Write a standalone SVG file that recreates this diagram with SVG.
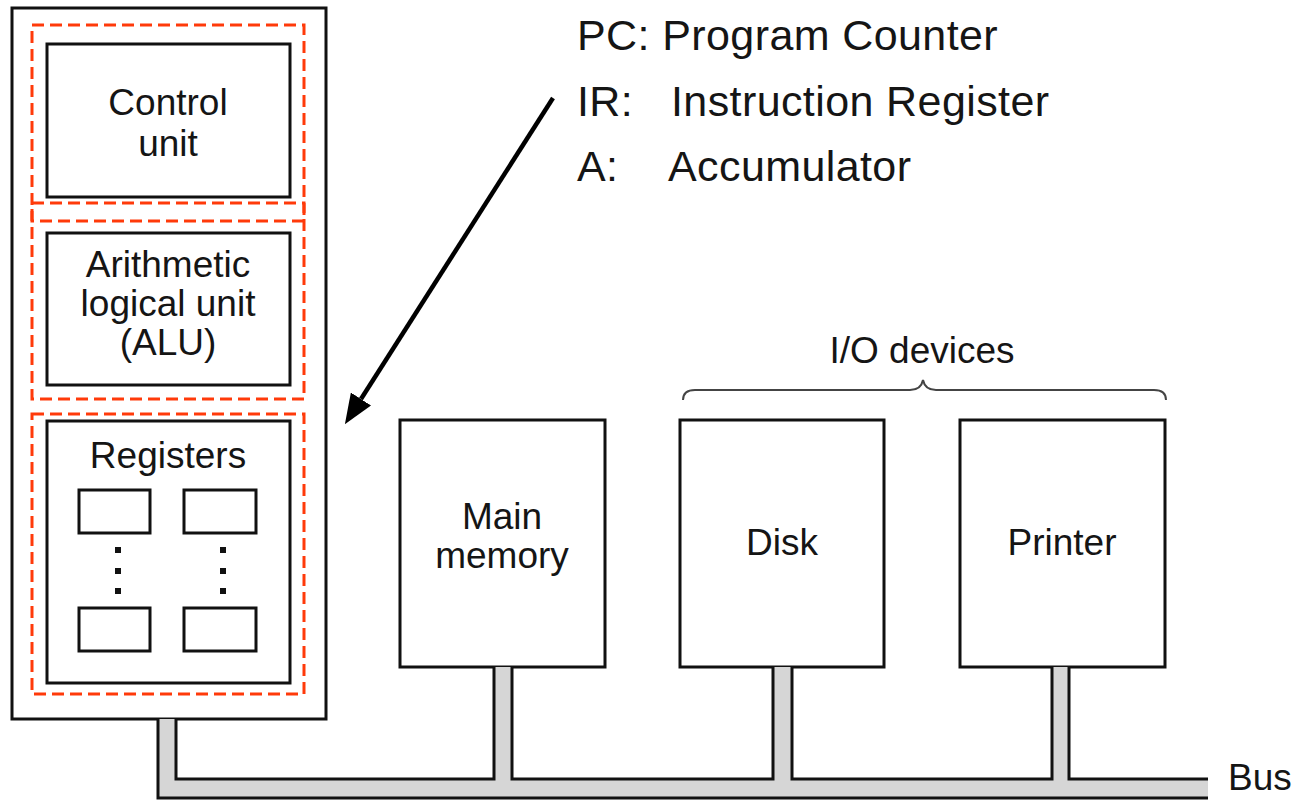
<svg xmlns="http://www.w3.org/2000/svg" width="1297" height="800" viewBox="0 0 1297 800">
  <style>
    .box { fill: #ffffff; stroke: #111111; stroke-width: 3; }
    .dash { fill: none; stroke: #ff3a0a; stroke-width: 3; stroke-dasharray: 12 6; }
    .lbl { font-family: "Liberation Sans", Arial, Helvetica, sans-serif; font-size: 37px; fill: #151515; text-anchor: middle; }
    .legend { font-family: "Liberation Sans", Arial, Helvetica, sans-serif; font-size: 43px; fill: #151515; letter-spacing: 0.4px; }
    .busfill { fill: #d6d6d6; stroke: none; }
    .busline { fill: none; stroke: #111111; stroke-width: 3; }
    .dot { fill: #111111; }
  </style>
  <defs>
    <marker id="arrowhead" viewBox="0 0 30 24" refX="0" refY="12" markerWidth="30" markerHeight="24" markerUnits="userSpaceOnUse" orient="auto">
      <path d="M0,0 L30,12 L0,24 z" fill="#000000"/>
    </marker>
  </defs>

  <rect width="1297" height="800" fill="#ffffff"/>

  <!-- CPU -->
  <g id="cpu">
    <rect class="box" x="12" y="8" width="314" height="711"/>
    <rect class="dash" x="32" y="25" width="272" height="196"/>
    <rect class="dash" x="32" y="203" width="272" height="196"/>
    <rect class="dash" x="32" y="414" width="272" height="280"/>
  </g>

  <g id="control-unit">
    <rect class="box" x="47" y="44" width="243" height="153"/>
    <text class="lbl" x="168" y="115">Control</text>
    <text class="lbl" x="168" y="156">unit</text>
  </g>

  <g id="alu">
    <rect class="box" x="47" y="233" width="243" height="152"/>
    <text class="lbl" x="168" y="277">Arithmetic</text>
    <text class="lbl" x="168" y="316">logical unit</text>
    <text class="lbl" x="168" y="355">(ALU)</text>
  </g>

  <g id="registers">
    <rect class="box" x="47" y="421" width="243" height="262"/>
    <text class="lbl" x="168" y="468">Registers</text>
    <rect class="box" x="79" y="490" width="71" height="43"/>
    <rect class="box" x="184" y="490" width="72" height="43"/>
    <rect class="box" x="79" y="608" width="71" height="43"/>
    <rect class="box" x="184" y="608" width="72" height="43"/>
    <rect class="dot" x="115" y="547" width="6" height="6"/>
    <rect class="dot" x="115" y="568" width="6" height="6"/>
    <rect class="dot" x="115" y="588" width="6" height="6"/>
    <rect class="dot" x="220" y="547" width="6" height="6"/>
    <rect class="dot" x="220" y="568" width="6" height="6"/>
    <rect class="dot" x="220" y="588" width="6" height="6"/>
  </g>

  <!-- legend of register names -->
  <g id="legend">
    <text class="legend" x="577" y="50">PC: Program Counter</text>
    <text class="legend" x="577" y="116">IR:</text>
    <text class="legend" x="671" y="116">Instruction Register</text>
    <text class="legend" x="577" y="181">A:</text>
    <text class="legend" x="668" y="181">Accumulator</text>
  </g>

  <g id="main-memory">
    <rect class="box" x="400" y="420" width="205" height="247"/>
    <text class="lbl" x="502" y="529">Main</text>
    <text class="lbl" x="502" y="568">memory</text>
  </g>

  <g id="disk">
    <rect class="box" x="680" y="420" width="204" height="247"/>
    <text class="lbl" x="782" y="555">Disk</text>
  </g>

  <g id="printer">
    <rect class="box" x="960" y="420" width="205" height="247"/>
    <text class="lbl" x="1062" y="555">Printer</text>
  </g>

  <g id="io-devices">
    <path d="M683,400 Q683,390 695,390 L910,390 Q921,390 923,380 Q925,390 936,390 L1154,390 Q1166,390 1166,400" fill="none" stroke="#444444" stroke-width="2"/>
    <text class="lbl" x="922" y="363">I/O devices</text>
  </g>

  <!-- system bus -->
  <g id="connectors">
    <path class="busfill" d="M158,719 L176,719 L176,779 L494,779 L494,667 L512,667 L512,779 L773,779 L773,667 L792,667 L792,779 L1052,779 L1052,667 L1069,667 L1069,779 L1208,779 L1208,798 L158,798 z"/>
    <polyline class="busline" points="158,719 158,798 1208,798"/>
    <polyline class="busline" points="176,719 176,779 494,779 494,667"/>
    <polyline class="busline" points="512,667 512,779 773,779 773,667"/>
    <polyline class="busline" points="792,667 792,779 1052,779 1052,667"/>
    <polyline class="busline" points="1069,667 1069,779 1208,779"/>
    <line x1="553" y1="98" x2="361" y2="399" stroke="#000000" stroke-width="4.5" marker-end="url(#arrowhead)"/>
  </g>
  <text class="lbl" x="1228" y="790" style="text-anchor:start">Bus</text>
</svg>
